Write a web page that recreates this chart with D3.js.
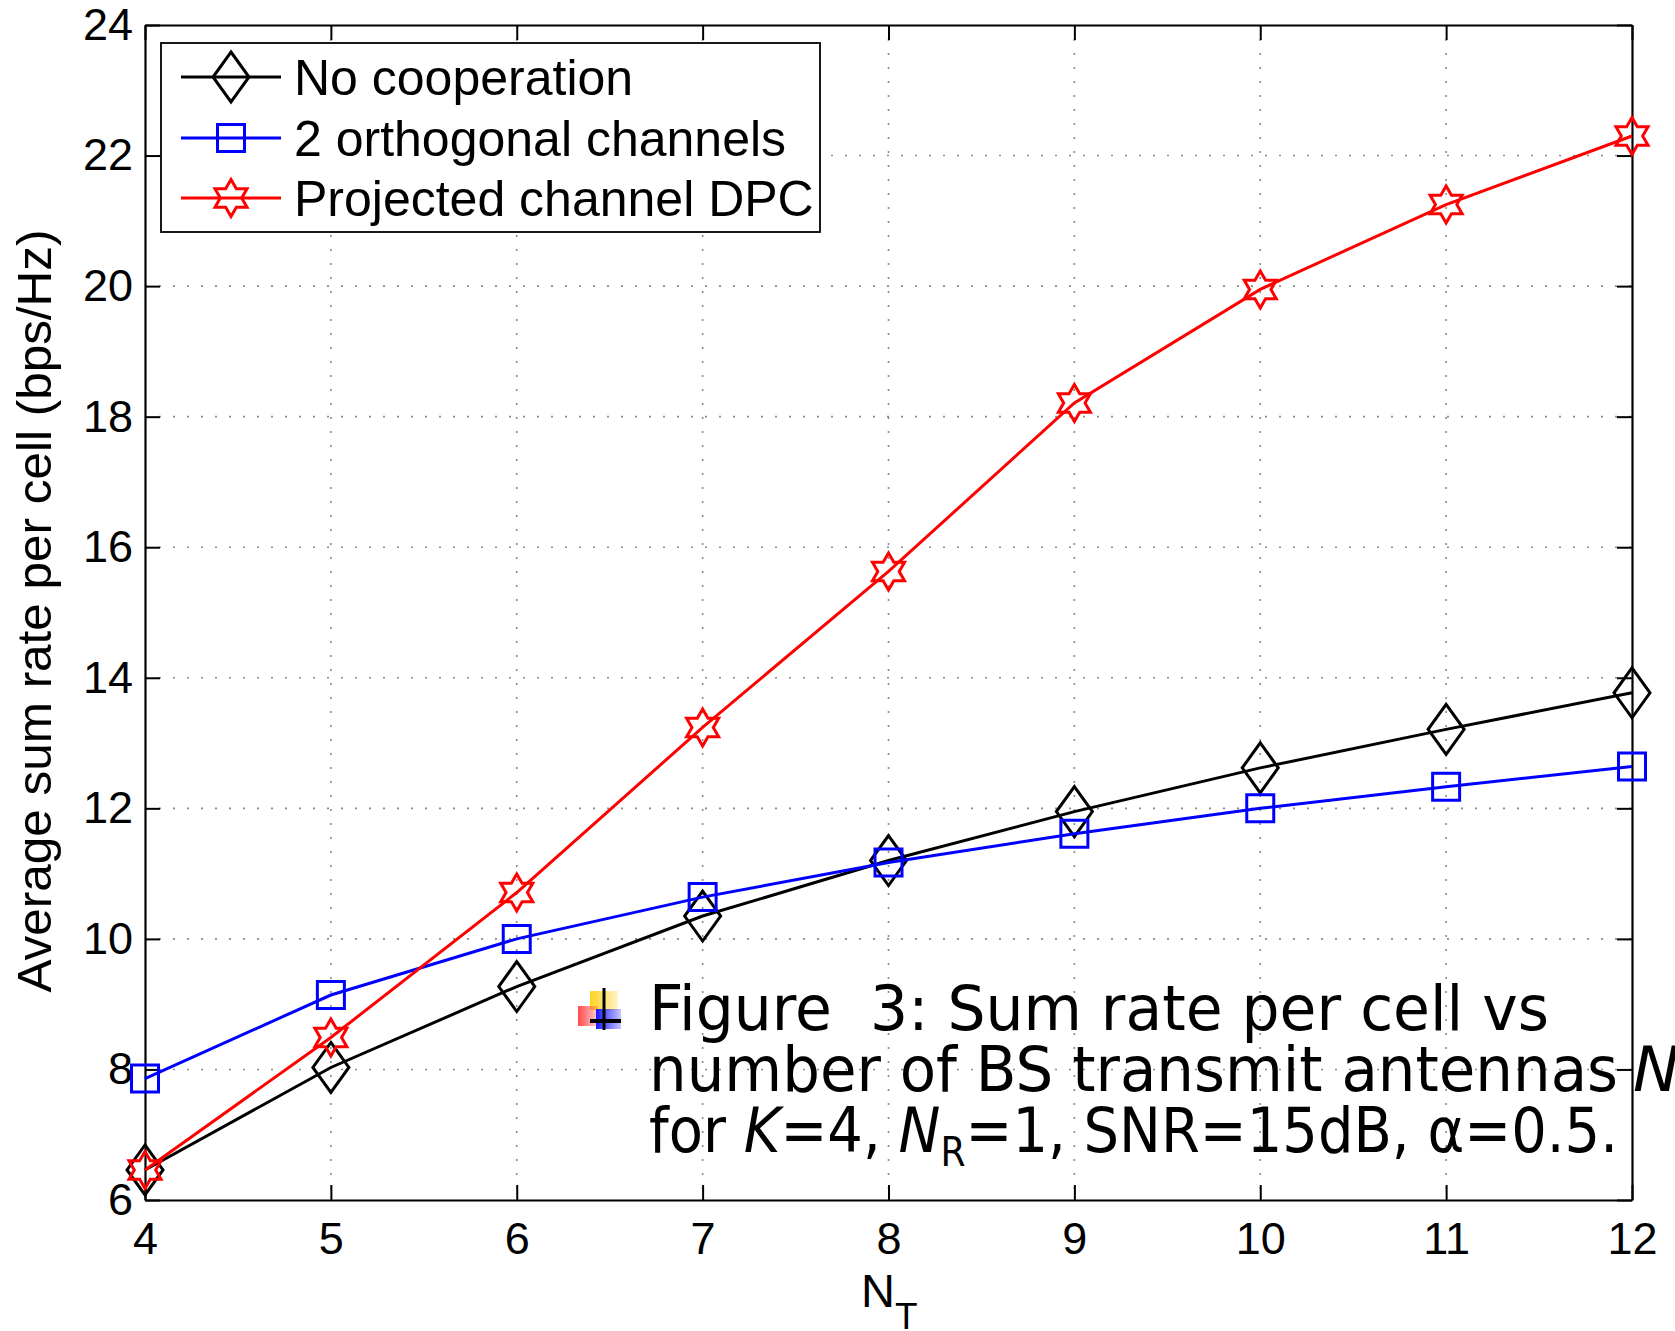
<!DOCTYPE html>
<html>
<head>
<meta charset="utf-8">
<script src="https://cdn.jsdelivr.net/npm/d3@7"></script>
<style>
  html, body { margin: 0; padding: 0; background: #fff; }
  svg { display: block; font-family: "Liberation Sans", Arial, sans-serif; }
  .caption { font-family: "Comic Sans MS", "DejaVu Sans", sans-serif; }
</style>
</head>
<body>
<svg id="chart" width="1675" height="1331"></svg>
<script>
// values
const nt = [4, 5, 6, 7, 8, 9, 10, 11, 12];
const noCoop = [6.46, 8.03, 9.27, 10.35, 11.2, 11.95, 12.62, 13.21, 13.77];
const orthogonal = [7.86, 9.14, 10.0, 10.64, 11.17, 11.61, 12.0, 12.33, 12.64];
const dpc = [6.46, 8.49, 10.71, 13.24, 15.63, 18.21, 19.95, 21.25, 22.3];
const xTicks = [4, 5, 6, 7, 8, 9, 10, 11, 12];
const yTicks = [6, 8, 10, 12, 14, 16, 18, 20, 22, 24];
const seriesNames = ["No cooperation", "2 orthogonal channels", "Projected channel DPC"];

const svg = d3.select("#chart");
const plotL = 145, plotR = 1632, plotT = 25, plotB = 1200;

const x = d3.scaleLinear().domain([4, 12]).range([plotL, plotR]);
const y = d3.scaleLinear().domain([6, 24]).range([plotB, plotT]);

// dotted grid
const grid = svg.append("g").attr("class", "grid")
    .attr("stroke", "#8a8a8a").attr("stroke-width", 1.6).attr("stroke-dasharray", "2,12");
grid.selectAll("line.v").data(xTicks.slice(1, -1)).enter().append("line")
    .attr("x1", d => x(d)).attr("x2", d => x(d))
    .attr("y1", plotT).attr("y2", plotB);
grid.selectAll("line.h").data(yTicks.slice(1, -1)).enter().append("line")
    .attr("y1", d => y(d)).attr("y2", d => y(d))
    .attr("x1", plotL).attr("x2", plotR);

// axes, ticks pointing inwards
function styleAxis(g) {
  g.select(".domain").attr("stroke", "#000").attr("stroke-width", 2.2);
  g.selectAll(".tick line").attr("stroke", "#000").attr("stroke-width", 2);
  g.selectAll(".tick text").attr("fill", "#000").attr("font-size", 45)
      .attr("font-family", "Liberation Sans, Arial, sans-serif");
}
svg.append("g").attr("transform", `translate(0,${plotB})`)
    .call(d3.axisBottom(x).tickValues(xTicks).tickSize(-15).tickSizeOuter(0).tickPadding(22))
    .call(styleAxis);
svg.append("g").attr("transform", `translate(${plotL},0)`)
    .call(d3.axisLeft(y).tickValues(yTicks).tickSize(-15).tickSizeOuter(0).tickPadding(12))
    .call(styleAxis);
svg.append("g").attr("transform", `translate(0,${plotT})`)
    .call(d3.axisTop(x).tickValues(xTicks).tickSize(-15).tickSizeOuter(0).tickFormat(""))
    .call(styleAxis);
svg.append("g").attr("transform", `translate(${plotR},0)`)
    .call(d3.axisRight(y).tickValues(yTicks).tickSize(-15).tickSizeOuter(0).tickFormat(""))
    .call(styleAxis);

// marker shapes
function diamond() { return "M0,-25L18,0L0,25L-18,0Z"; }
function square() { return "M-13.5,-13.5H13.5V13.5H-13.5Z"; }
function hexagram() {
  const R = 18.5, r = R / Math.sqrt(3);
  const pts = d3.range(12).map(i => {
    const a = -Math.PI / 2 + i * Math.PI / 6;
    const rad = i % 2 === 0 ? R : r;
    return [rad * Math.cos(a), rad * Math.sin(a)];
  });
  return "M" + pts.map(p => p.join(",")).join("L") + "Z";
}

const series = [
  { name: seriesNames[0], values: noCoop, color: "#000000", shape: diamond },
  { name: seriesNames[1], values: orthogonal, color: "#0000ff", shape: square },
  { name: seriesNames[2], values: dpc, color: "#ff0000", shape: hexagram }
];

const line = d3.line().x((d, i) => x(nt[i])).y(d => y(d));

series.forEach(s => {
  const g = svg.append("g");
  g.append("path").attr("d", line(s.values))
      .attr("fill", "none").attr("stroke", s.color).attr("stroke-width", 3);
  g.selectAll("path.m").data(s.values).enter().append("path")
      .attr("class", "m")
      .attr("d", s.shape())
      .attr("transform", (d, i) => `translate(${x(nt[i])},${y(d)})`)
      .attr("fill", "none").attr("stroke", s.color).attr("stroke-width", 3);
});

// legend
const legend = svg.append("g");
legend.append("rect").attr("x", 161).attr("y", 43).attr("width", 659).attr("height", 189)
    .attr("fill", "#fff").attr("stroke", "#000").attr("stroke-width", 1.8);
const rowY = [77, 138, 198];
series.forEach((s, i) => {
  const gy = rowY[i];
  legend.append("line").attr("x1", 181).attr("x2", 281).attr("y1", gy).attr("y2", gy)
      .attr("stroke", s.color).attr("stroke-width", 3);
  legend.append("path").attr("d", s.shape()).attr("transform", `translate(231,${gy})`)
      .attr("fill", "none").attr("stroke", s.color).attr("stroke-width", 3);
  legend.append("text").attr("x", 294).attr("y", gy).attr("dy", "0.36em")
      .attr("font-size", 50).text(s.name);
});

// axis labels
svg.append("text").attr("transform", "translate(51,611) rotate(-90)")
    .attr("text-anchor", "middle").attr("font-size", 49)
    .attr("textLength", 763).attr("lengthAdjust", "spacingAndGlyphs")
    .text("Average sum rate per cell (bps/Hz)");
const xl = svg.append("text").attr("x", 861).attr("y", 1307).attr("font-size", 47);
xl.append("tspan").text("N");
xl.append("tspan").attr("font-size", 37).attr("dy", 22).text("T");

// caption overlay with its small bullet icon
const defs = svg.append("defs");
[["gy", "#ffd21f"], ["gr", "#ff4a4a"], ["gb", "#1a1aff"]].forEach(([id, c]) => {
  const gr = defs.append("linearGradient").attr("id", id);
  gr.append("stop").attr("offset", "0").attr("stop-color", c);
  gr.append("stop").attr("offset", "1").attr("stop-color", c).attr("stop-opacity", 0.25);
});
const icon = svg.append("g");
icon.append("rect").attr("x", 590).attr("y", 991).attr("width", 28).attr("height", 19).attr("fill", "url(#gy)");
icon.append("rect").attr("x", 578).attr("y", 1006).attr("width", 20).attr("height", 20).attr("fill", "url(#gr)");
icon.append("rect").attr("x", 596).attr("y", 1009).attr("width", 25).attr("height", 20).attr("fill", "url(#gb)");
icon.append("line").attr("x1", 604).attr("x2", 604).attr("y1", 988).attr("y2", 1030).attr("stroke", "#000").attr("stroke-width", 3);
icon.append("line").attr("x1", 590).attr("x2", 621).attr("y1", 1021).attr("y2", 1021).attr("stroke", "#000").attr("stroke-width", 4);

const cap = svg.append("g").attr("class", "caption").attr("font-size", 62).attr("fill", "#000");
cap.append("text").attr("x", 649).attr("y", 1030)
    .attr("textLength", 900).attr("lengthAdjust", "spacingAndGlyphs")
    .text("Figure\u00a0 3: Sum rate per cell vs");
cap.append("text").attr("x", 649).attr("y", 1091)
    .attr("textLength", 969).attr("lengthAdjust", "spacingAndGlyphs")
    .text("number of BS transmit antennas");
cap.append("text").attr("x", 1633).attr("y", 1091).attr("font-style", "italic").text("N");
const l3 = cap.append("text").attr("x", 649).attr("y", 1152)
    .attr("textLength", 969).attr("lengthAdjust", "spacingAndGlyphs");
l3.append("tspan").text("for ");
l3.append("tspan").attr("font-style", "italic").text("K");
l3.append("tspan").text("=4, ");
l3.append("tspan").attr("font-style", "italic").text("N");
l3.append("tspan").attr("font-size", 40).attr("dy", 14).text("R");
l3.append("tspan").attr("dy", -14).text("=1, SNR=15dB, α=0.5.");
</script>
</body>
</html>
